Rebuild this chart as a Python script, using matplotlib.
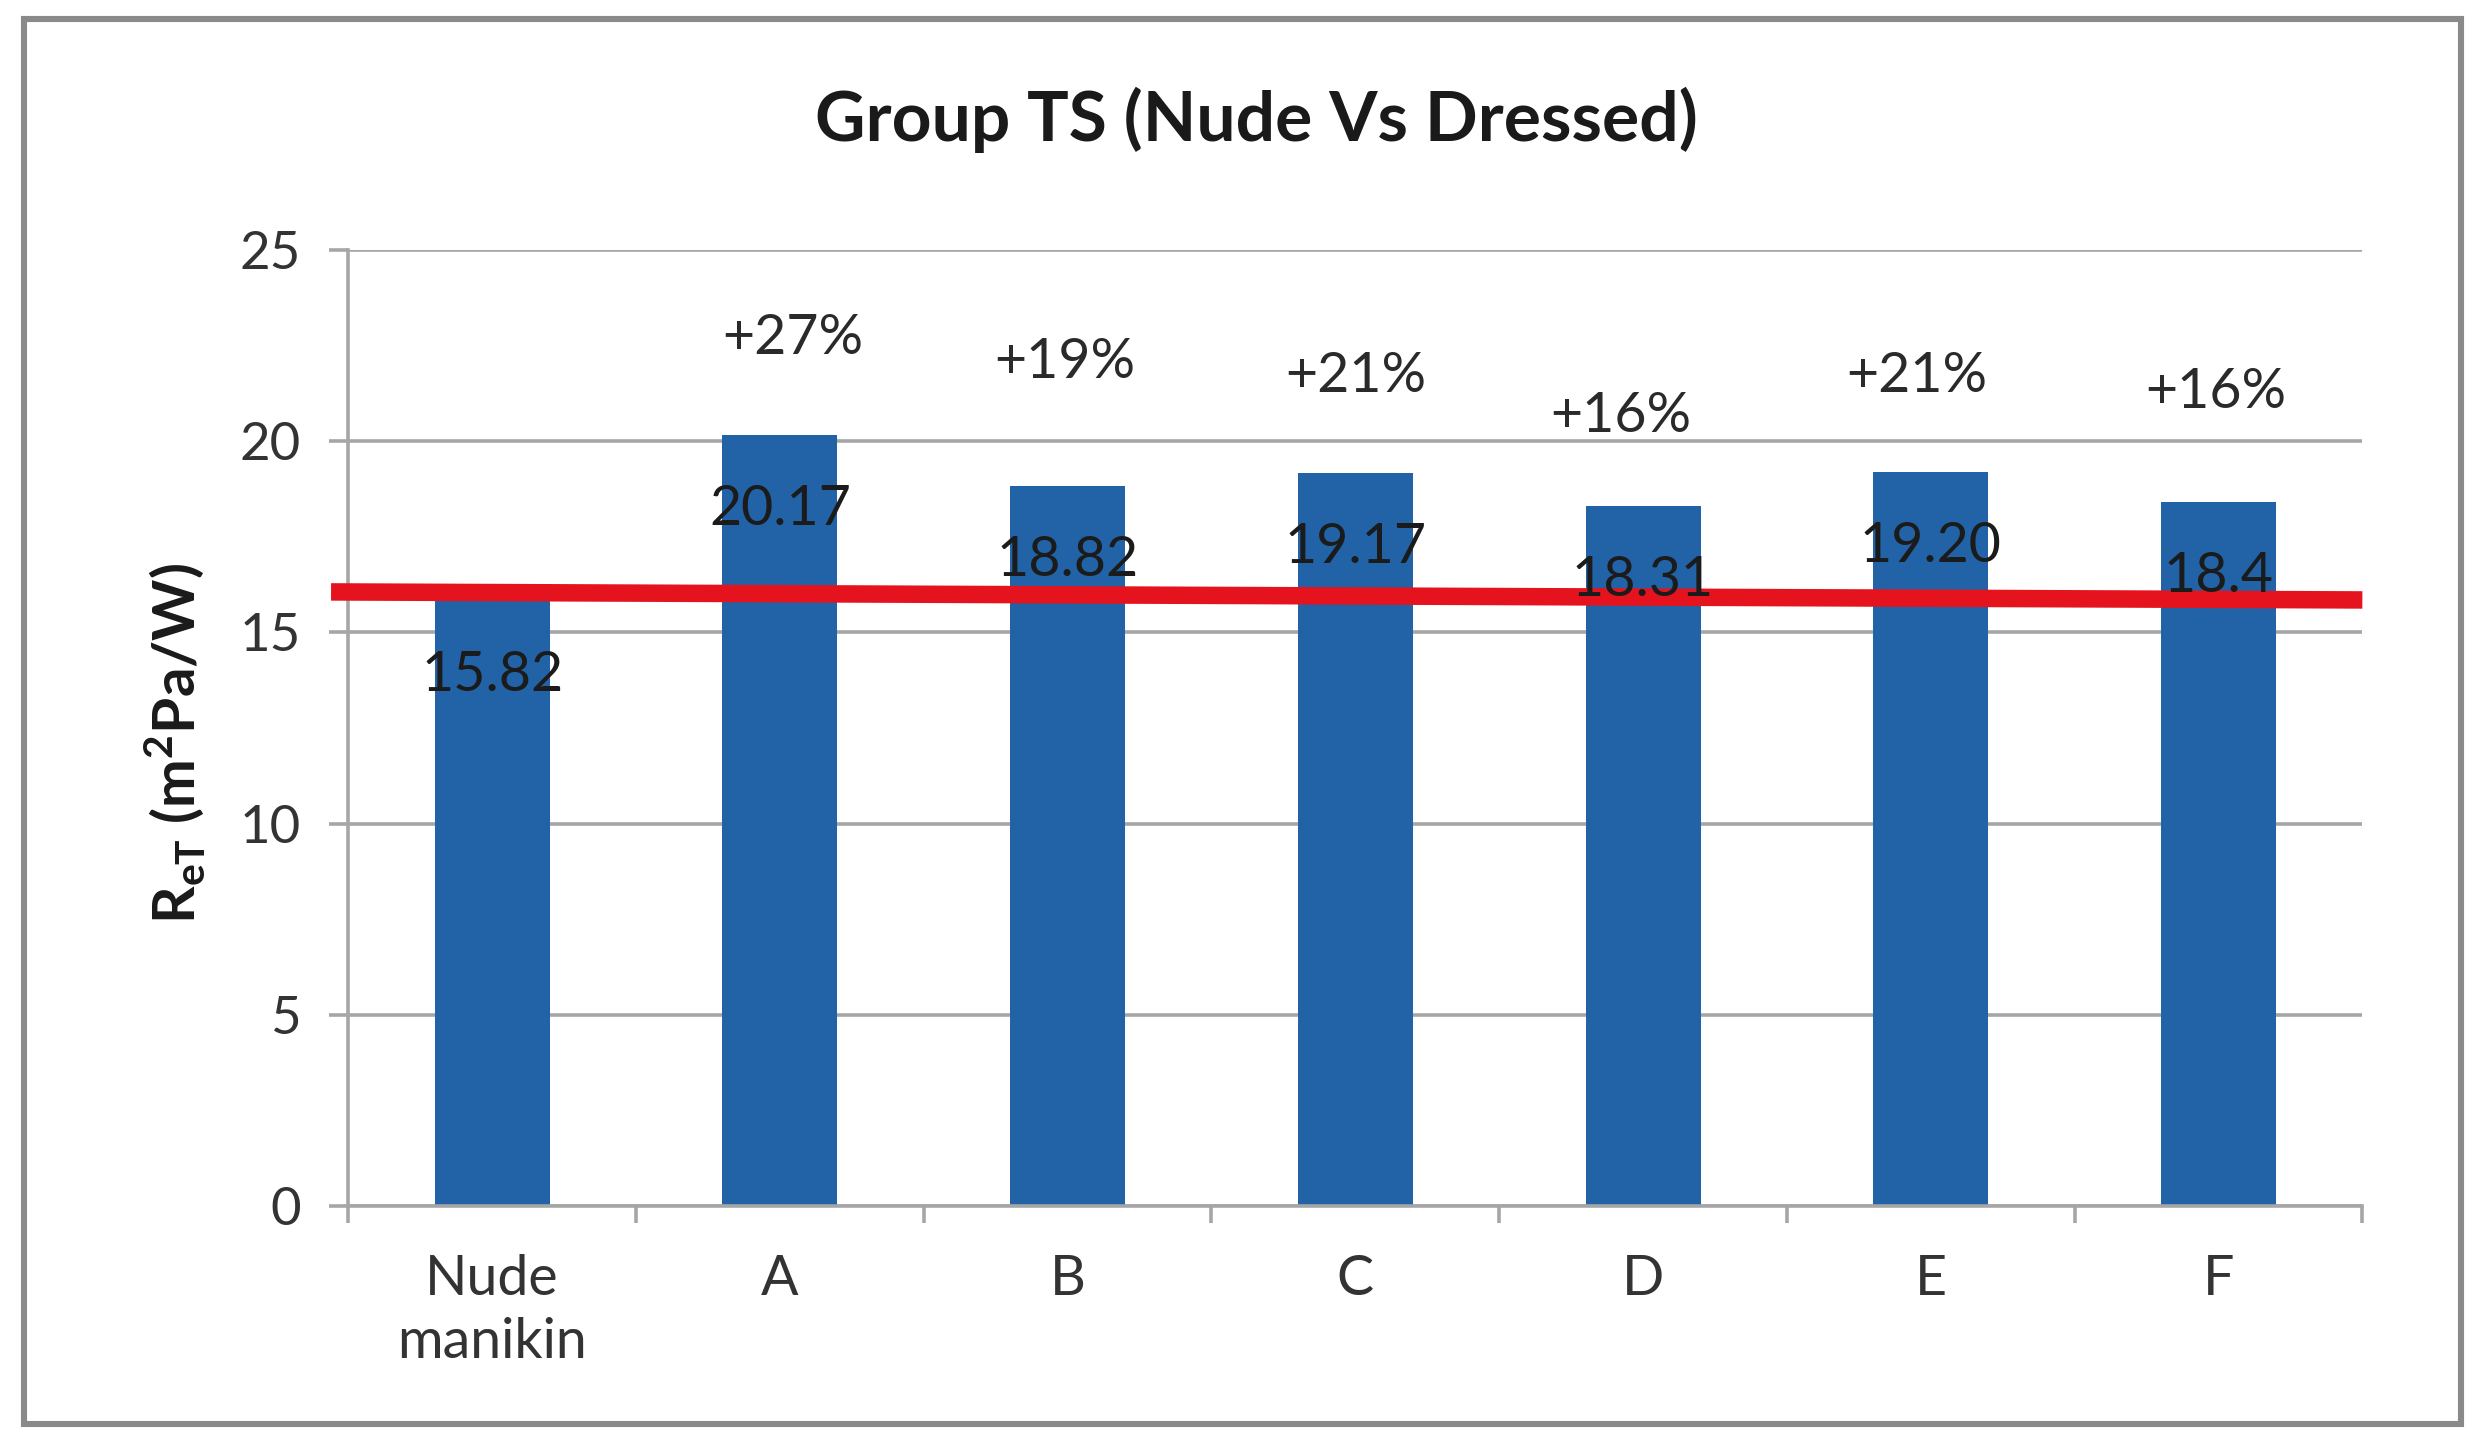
import numpy as np
import matplotlib
matplotlib.use("Agg")
import matplotlib.pyplot as plt
from matplotlib.patches import Rectangle

plt.rcParams['font.family'] = ['Lato', 'DejaVu Sans']
plt.rcParams['mathtext.fontset'] = 'custom'
plt.rcParams['mathtext.rm'] = 'Lato'
plt.rcParams['mathtext.bf'] = 'Lato:bold'

# data
categories = ["Nude\nmanikin", "A", "B", "C", "D", "E", "F"]
ret_values = [15.82, 20.17, 18.82, 19.17, 18.31, 19.20, 18.40]
value_labels = ["15.82", "20.17", "18.82", "19.17", "18.31", "19.20", "18.4"]
pct_labels = ["", "+27%", "+19%", "+21%", "+16%", "+21%", "+16%"]
ref_line = [16.06, 15.85]  # red reference line, left end / right end

# label placement (as drawn in the original, not evenly spaced)
pct_y = [None, 22.68, 22.06, 21.68, 20.65, 21.68, 21.27]
pct_dx = [0, 0.044, -0.011, 0, -0.077, -0.05, -0.011]

bar_color = "#2163a6"
grid_color = "#a6a6a6"

fig = plt.figure(figsize=(12.44, 7.22), dpi=200)
ax = fig.add_axes([0.140, 0.1645, 0.8095, 0.6625])

x = np.arange(len(categories))
ax.bar(x, ret_values, width=0.4, color=bar_color, zorder=2)

# value labels inside bars, percent labels above
for i, v in enumerate(ret_values):
    ax.text(x[i], v - 1.95, value_labels[i], ha="center", va="center",
            fontsize=20, color="#1b1b1b", zorder=4)
    if pct_labels[i]:
        ax.text(x[i] + pct_dx[i], pct_y[i], pct_labels[i], ha="center",
                va="center", fontsize=20, color="#2a2a2a", zorder=4)

ax.plot([-0.56, 6.5], ref_line, color="#e5131d", lw=6.3,
        solid_capstyle="butt", zorder=3, clip_on=False)

ax.set_xlim(-0.5, 6.5)
ax.set_ylim(0, 25)
ax.set_yticks(range(0, 26, 5))
ax.yaxis.grid(True, color=grid_color, lw=1.3, zorder=0)
ax.set_axisbelow(True)

ax.set_xticks(x)
ax.set_xticklabels(categories, fontsize=20, color="#333333", linespacing=1.3)
ax.set_xticks(np.arange(-0.5, 7, 1), minor=True)
ax.tick_params(axis="x", which="major", length=0, pad=17)
ax.tick_params(axis="x", which="minor", length=6, width=1.3, color=grid_color)
ax.tick_params(axis="y", length=7, width=1.3, color=grid_color, pad=10,
               labelsize=19, labelcolor="#333333")

for s in ["top", "right"]:
    ax.spines[s].set_visible(False)
for s in ["left", "bottom"]:
    ax.spines[s].set_color(grid_color)
    ax.spines[s].set_linewidth(1.3)

fig.text(0.505, 0.917, "Group TS (Nude Vs Dressed)", ha="center", va="center",
         fontsize=25, fontweight="bold", color="#1a1a1a")
fig.text(0.070, 0.485, r"R$_{\mathbf{eT}}$ (m$^{\mathbf{2}}$Pa/W)", rotation=90,
         ha="center", va="center", fontsize=21, fontweight="bold", color="#1a1a1a")

# outer chart frame
fig.patches.append(Rectangle((0.0096, 0.014), 0.9794, 0.973, transform=fig.transFigure,
                             fill=False, edgecolor="#8a8a8a", lw=2.2))

fig.savefig("out.png", dpi=200, facecolor="white")
